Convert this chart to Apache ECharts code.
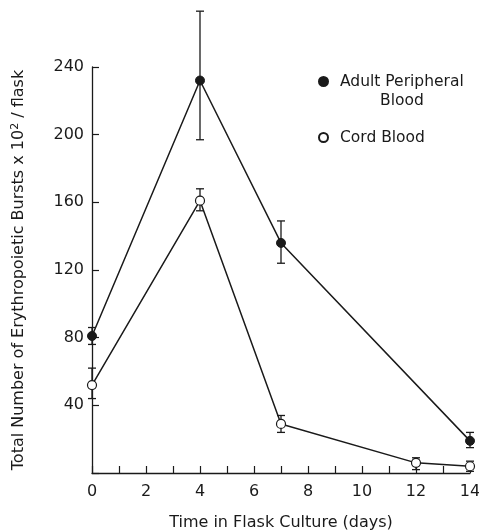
<!DOCTYPE html>
<html lang="en">
<head>
  <meta charset="UTF-8">
  <title>Erythropoietic bursts</title>
  <script src="https://cdn.jsdelivr.net/npm/echarts/dist/echarts.min.js"></script>
  <style>
    html, body { margin: 0; padding: 0; background: #fff; }
    #chart { width: 479px; height: 532px; }
  </style>
</head>
<body>
  <div id="chart"></div>
<script>
  const days = [0, 4, 7, 14];
  const adultMean = [81, 232, 136, 19];
  const adultLow = [76, 197, 124, 15];
  const adultHigh = [86, 273, 149, 24];

  const cordDays = [0, 4, 7, 12, 14];
  const cordMean = [52, 161, 29, 6, 4];
  const cordLow = [44, 155, 24, 2, 1];
  const cordHigh = [62, 168, 34, 9, 7];

  const xTickLabels = ["0", "2", "4", "6", "8", "10", "12", "14"];
  const yTickLabels = ["40", "80", "120", "160", "200", "240"];

  const font = "DejaVu Sans";
  const ink = "#1a1a1a";

  function pairs(xs, ys) {
    return xs.map((x, i) => [x, ys[i]]);
  }
  function bars(xs, lo, hi) {
    return xs.map((x, i) => [x, lo[i], hi[i]]);
  }

  function renderErrorBar(params, api) {
    const x = api.value(0);
    const lo = api.coord([x, api.value(1)]);
    const hi = api.coord([x, api.value(2)]);
    const cap = 4;
    const style = { stroke: ink, lineWidth: 1.3 };
    return {
      type: "group",
      children: [
        { type: "line", shape: { x1: lo[0], y1: lo[1], x2: hi[0], y2: hi[1] }, style },
        { type: "line", shape: { x1: lo[0] - cap, y1: lo[1], x2: lo[0] + cap, y2: lo[1] }, style },
        { type: "line", shape: { x1: hi[0] - cap, y1: hi[1], x2: hi[0] + cap, y2: hi[1] }, style }
      ]
    };
  }

  const chart = echarts.init(document.getElementById("chart"));
  chart.setOption({
    animation: false,
    backgroundColor: "#fff",
    textStyle: { fontFamily: font, color: ink },
    grid: { left: 92, right: 9, top: 67, bottom: 59, outerBoundsMode: "none" },
    legend: {
      orient: "vertical",
      left: 313,
      top: 67,
      itemGap: 37,
      itemWidth: 9,
      itemHeight: 9,
      icon: "circle",
      textStyle: { fontFamily: font, fontSize: 15.5, color: ink, lineHeight: 19, padding: [0, 0, 0, 7] },
      formatter: (name) => name === "Adult Peripheral Blood" ? "Adult Peripheral" : name,
      data: ["Adult Peripheral Blood", "Cord Blood"]
    },
    graphic: [
      {
        type: "text",
        left: 380,
        top: 93,
        style: { text: "Blood", fontFamily: font, fontSize: 15.5, fill: ink }
      }
    ],
    xAxis: {
      type: "value",
      min: 0,
      max: 14,
      interval: 1,
      name: "Time in Flask Culture (days)",
      nameLocation: "middle",
      nameGap: 42,
      nameTextStyle: { fontFamily: font, fontSize: 16, color: ink },
      axisLine: { lineStyle: { color: ink, width: 1.3 } },
      axisTick: { inside: true, length: 7, lineStyle: { color: ink, width: 1.2 } },
      axisLabel: {
        fontFamily: font, fontSize: 16, color: ink, margin: 11,
        formatter: (v) => v % 2 === 0 ? xTickLabels[v / 2] : ""
      },
      splitLine: { show: false }
    },
    yAxis: {
      type: "value",
      min: 0,
      max: 240,
      interval: 40,
      name: "Total Number of Erythropoietic Bursts x 10{sup|2} / flask",
      nameLocation: "middle",
      nameGap: 64,
      nameTextStyle: {
        fontFamily: font, fontSize: 16, color: ink,
        rich: { sup: { fontFamily: font, fontSize: 11, color: ink, verticalAlign: "top", padding: [0, 0, 7, 0] } }
      },
      axisLine: { show: true, lineStyle: { color: ink, width: 1.3 } },
      axisTick: { inside: true, length: 7, lineStyle: { color: ink, width: 1.2 } },
      axisLabel: {
        fontFamily: font, fontSize: 16, color: ink, margin: 8,
        formatter: (v) => v === 0 ? "" : yTickLabels[v / 40 - 1]
      },
      splitLine: { show: false }
    },
    series: [
      {
        type: "custom",
        name: "adultErr",
        renderItem: renderErrorBar,
        data: bars(days, adultLow, adultHigh),
        z: 1
      },
      {
        type: "custom",
        name: "cordErr",
        renderItem: renderErrorBar,
        data: bars(cordDays, cordLow, cordHigh),
        z: 1
      },
      {
        type: "line",
        name: "Adult Peripheral Blood",
        data: pairs(days, adultMean),
        symbol: "circle",
        symbolSize: 9,
        lineStyle: { color: ink, width: 1.5 },
        itemStyle: { color: ink, borderColor: ink, borderWidth: 1 },
        z: 3
      },
      {
        type: "line",
        name: "Cord Blood",
        data: pairs(cordDays, cordMean),
        symbol: "circle",
        symbolSize: 9,
        showAllSymbol: true,
        lineStyle: { color: ink, width: 1.5 },
        itemStyle: { color: "#fff", borderColor: ink, borderWidth: 1.2 },
        z: 3
      }
    ]
  });
</script>
</body>
</html>
